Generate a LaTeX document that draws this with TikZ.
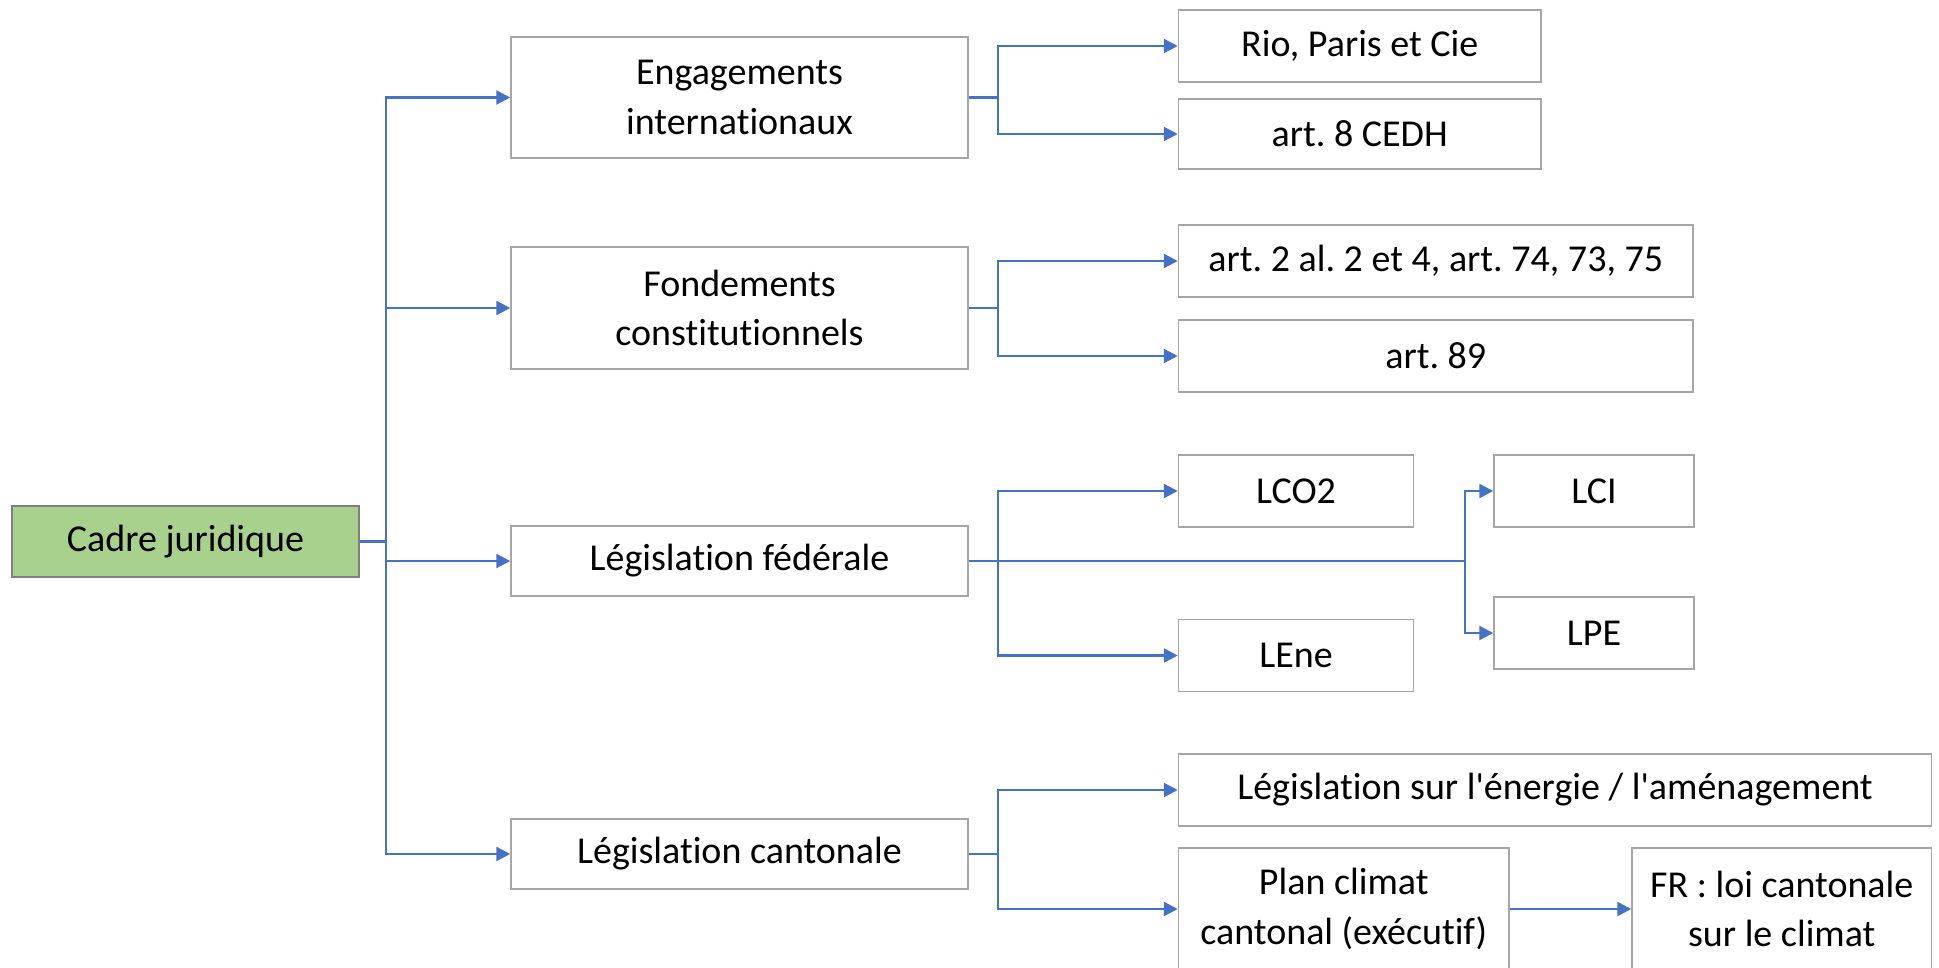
\documentclass[tikz,border=0pt]{standalone}
\usepackage{fontspec}
\newfontfamily\diagfont{Carlito}[Ligatures={NoCommon}]
\usetikzlibrary{arrows.meta}
\definecolor{linkblue}{HTML}{4472C4}
\definecolor{boxgray}{HTML}{A6A6A6}
\definecolor{rootgreen}{HTML}{A9D18E}
\definecolor{rootedge}{HTML}{7F7F7F}
\tikzset{
  box/.style={draw=boxgray, line width=0.75pt, fill=white, align=center,
    inner sep=0pt, font=\diagfont\frenchspacing\fontsize{19}{24.75}\selectfont},
  rootbox/.style={box, draw=rootedge, fill=rootgreen},
  link/.style={draw=linkblue, line width=1.2pt,
    -{Triangle[length=7pt, width=7pt]}},
  plain/.style={draw=linkblue, line width=1.2pt}
}
\begin{document}
\begin{tikzpicture}[x=0.5pt, y=-0.5pt]
\useasboundingbox (0,0) rectangle (1939,968);

% root
\node[rootbox, minimum width=173.5pt, minimum height=35.5pt] (cadre) at (185.5,541.5) {Cadre juridique};

% first level
\node[box, minimum width=228.5pt, minimum height=60.5pt] (eng) at (739.5,97.5) {Engagements\\internationaux};
\node[box, minimum width=228.5pt, minimum height=61pt] (fond) at (739.5,308) {Fondements\\constitutionnels};
\node[box, minimum width=228.5pt, minimum height=35pt] (fed) at (739.5,561) {Législation fédérale};
\node[box, minimum width=228.5pt, minimum height=35pt] (cant) at (739.5,854) {Législation cantonale};

% second level
\node[box, minimum width=181.25pt, minimum height=36pt] (rio) at (1359.75,46) {Rio, Paris et Cie};
\node[box, minimum width=181.25pt, minimum height=35pt] (cedh) at (1359.75,134) {art. 8 CEDH};
\node[box, minimum width=257.25pt, minimum height=36pt] (art2) at (1435.75,261) {art. 2 al. 2 et 4, art. 74, 73, 75};
\node[box, minimum width=257.25pt, minimum height=36pt] (art89) at (1435.75,356) {art. 89};
\node[box, minimum width=117.5pt, minimum height=36pt] (lco) at (1296,491) {LCO2};
\node[box, minimum width=117.5pt, minimum height=36pt] (lene) at (1296,655.5) {LEne};
\node[box, minimum width=100pt, minimum height=36pt] (lci) at (1594,491) {LCI};
\node[box, minimum width=100pt, minimum height=36pt] (lpe) at (1594,633) {LPE};
\node[box, minimum width=376.5pt, minimum height=36pt] (energ) at (1555,790) {Législation sur l'énergie / l'aménagement};
\node[box, minimum width=165.25pt, minimum height=61pt] (plan) at (1343.75,909) {Plan climat\\cantonal (exécutif)};
\node[box, minimum width=149.75pt, minimum height=61pt] (frloi) at (1781.75,909) {FR : loi cantonale\\sur le climat};

% junction points
\coordinate (trunk) at (386,541.5);
\coordinate (fedhub) at (1465,561);

% root to first level
\draw[plain] (cadre.east) -- (trunk);
\foreach \t in {eng,fond,fed,cant}
  \draw[link] (trunk) |- (\t.west);

% first level to second level
\draw[link] (eng.east) -- ++(29,0) |- (rio.west);
\draw[link] (eng.east) -- ++(29,0) |- (cedh.west);
\draw[link] (fond.east) -- ++(29,0) |- (art2.west);
\draw[link] (fond.east) -- ++(29,0) |- (art89.west);
\draw[link] (fed.east) -- ++(29,0) |- (lco.west);
\draw[link] (fed.east) -- ++(29,0) |- (lene.west);
\draw[plain] (fed.east) -- (fedhub);
\draw[link] (fedhub) |- (lci.west);
\draw[link] (fedhub) |- (lpe.west);
\draw[link] (cant.east) -- ++(29,0) |- (energ.west);
\draw[link] (cant.east) -- ++(29,0) |- (plan.west);
\draw[link] (plan.east) -- (frloi.west);
\end{tikzpicture}
\end{document}
